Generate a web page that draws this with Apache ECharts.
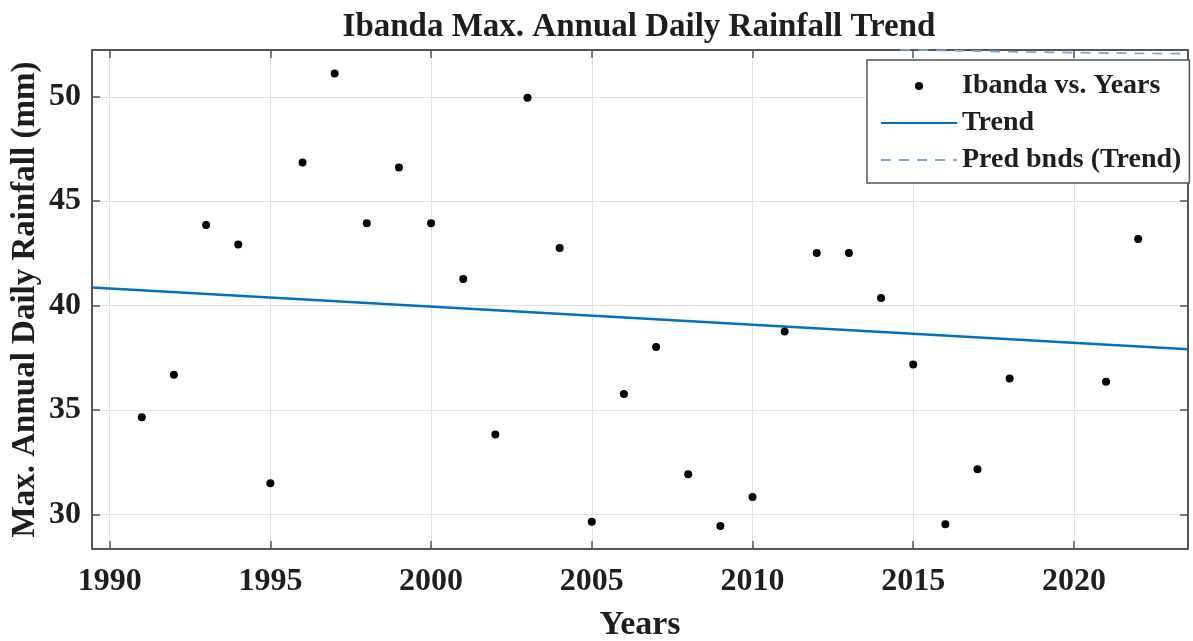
<!DOCTYPE html>
<html>
<head>
<meta charset="utf-8">
<title>Ibanda Max. Annual Daily Rainfall Trend</title>
<script src="https://cdn.jsdelivr.net/npm/echarts@6/dist/echarts.min.js"></script>
<style>
  html, body { margin: 0; padding: 0; background: #fff; }
  #chart { width: 1193px; height: 641px; }
</style>
</head>
<body>
<div id="chart"></div>
<script>
// Observed annual maximum daily rainfall at Ibanda (mm)
const years = [1991, 1992, 1993, 1994, 1995, 1996, 1997, 1998, 1999, 2000,
               2001, 2002, 2003, 2004, 2005, 2006, 2007, 2008, 2009, 2010,
               2011, 2012, 2013, 2014, 2015, 2016, 2017, 2018, 2021, 2022];
const rainfall = [34.65, 36.68, 43.86, 42.93, 31.49, 46.85, 51.12, 43.94, 46.61, 43.94,
                  41.27, 33.82, 49.95, 42.76, 29.65, 35.76, 38.01, 31.92, 29.44, 30.83,
                  38.76, 42.52, 42.52, 40.36, 37.18, 29.52, 32.16, 36.51, 36.35, 43.19];

// Fitted linear trend, end points across the plotted year range
const trendYears = [1989.45, 2023.55];
const trendValues = [40.87, 37.91];

// Upper prediction bound where it enters the plotted range
const boundYears = [2014.6, 2019.3, 2023.55];
const boundValues = [52.26, 52.13, 52.06];

// Axis extents
const xRange = [1989.45, 2023.55];
const yRange = [28.34, 52.24];

const serif = '"Liberation Serif", "Times New Roman", serif';
const frameColor = '#555555';
const textColor = '#1e1e1e';
const clear = 'rgba(0,0,0,0)';

const zip = (xs, ys) => xs.map((x, i) => [x, ys[i]]);
const multipleOf5 = v => Math.abs(v - Math.round(v / 5) * 5) < 1e-6;

const baseX = {
  type: 'value',
  min: xRange[0],
  max: xRange[1],
  splitNumber: 7,
  axisLine: { show: true, onZero: false, lineStyle: { color: frameColor, width: 2 } },
  axisTick: { show: true, inside: true, length: 8, lineStyle: { color: frameColor, width: 1.5 } }
};
const baseY = {
  type: 'value',
  min: yRange[0],
  max: yRange[1],
  splitNumber: 5,
  axisLine: { show: true, onZero: false, lineStyle: { color: frameColor, width: 2 } },
  axisTick: { show: true, inside: true, length: 8, lineStyle: { color: frameColor, width: 1.5 } }
};

const chart = echarts.init(document.getElementById('chart'), null, { renderer: 'canvas' });

chart.setOption({
  backgroundColor: '#ffffff',
  animation: false,
  title: {
    text: 'Ibanda Max. Annual Daily Rainfall Trend',
    left: 634,
    top: 6,
    textAlign: 'center',
    textStyle: { fontFamily: serif, fontWeight: 'bold', fontSize: 33, color: textColor }
  },
  grid: {
    left: 92, right: 5, top: 50, bottom: 92,
    containLabel: false,
    outerBoundsMode: 'none'
  },
  xAxis: [
    Object.assign({}, baseX, {
      position: 'bottom',
      name: 'Years',
      nameLocation: 'middle',
      nameGap: 59,
      nameMoveOverlap: false,
      nameTextStyle: { fontFamily: serif, fontWeight: 'bold', fontSize: 34, color: textColor },
      axisLabel: {
        show: true, margin: 17,
        fontFamily: serif, fontWeight: 'bold', fontSize: 32, color: textColor,
        formatter: v => (multipleOf5(v) ? String(Math.round(v)) : '')
      },
      splitLine: { show: true, lineStyle: { color: '#e1e1e1', width: 1 } }
    }),
    Object.assign({}, baseX, {
      position: 'top',
      axisLabel: { show: false },
      splitLine: { show: false }
    })
  ],
  yAxis: [
    Object.assign({}, baseY, {
      position: 'left',
      name: 'Max. Annual Daily Rainfall (mm)',
      nameLocation: 'middle',
      nameGap: 50,
      nameMoveOverlap: false,
      nameTextStyle: { fontFamily: serif, fontWeight: 'bold', fontSize: 33, color: textColor },
      axisLabel: {
        show: true, margin: 11,
        fontFamily: serif, fontWeight: 'bold', fontSize: 32, color: textColor,
        formatter: v => (multipleOf5(v) ? String(Math.round(v)) : '')
      },
      splitLine: { show: true, lineStyle: { color: '#e1e1e1', width: 1 } }
    }),
    Object.assign({}, baseY, {
      position: 'right',
      axisLabel: { show: false },
      splitLine: { show: false }
    })
  ],
  legend: {
    orient: 'vertical',
    left: 867,
    top: 60,
    padding: [11, 8, 8, 13],
    itemWidth: 76,
    itemHeight: 8,
    itemGap: 7,
    backgroundColor: '#ffffff',
    borderColor: frameColor,
    borderWidth: 1.5,
    textStyle: { fontFamily: serif, fontWeight: 'bold', fontSize: 28, color: textColor, lineHeight: 30 },
    data: ['Ibanda vs. Years', 'Trend', 'Pred bnds (Trend)']
  },
  series: [
    {
      name: 'Ibanda vs. Years',
      type: 'scatter',
      symbol: 'circle',
      symbolSize: 8,
      itemStyle: { color: '#000000', opacity: 1 },
      data: zip(years, rainfall),
      z: 5
    },
    {
      name: 'Trend',
      type: 'line',
      symbol: 'circle',
      showSymbol: false,
      lineStyle: { color: '#0072BD', width: 2.5 },
      itemStyle: { color: clear, borderColor: clear, borderWidth: 0 },
      data: zip(trendYears, trendValues),
      z: 3
    },
    {
      name: 'Pred bnds (Trend)',
      type: 'line',
      symbol: 'circle',
      showSymbol: false,
      smooth: true,
      clip: true,
      lineStyle: { color: '#7aa9cf', width: 1.8, type: [10, 8] },
      itemStyle: { color: clear, borderColor: clear, borderWidth: 0 },
      data: zip(boundYears, boundValues),
      z: 2
    }
  ]
});
</script>
</body>
</html>
